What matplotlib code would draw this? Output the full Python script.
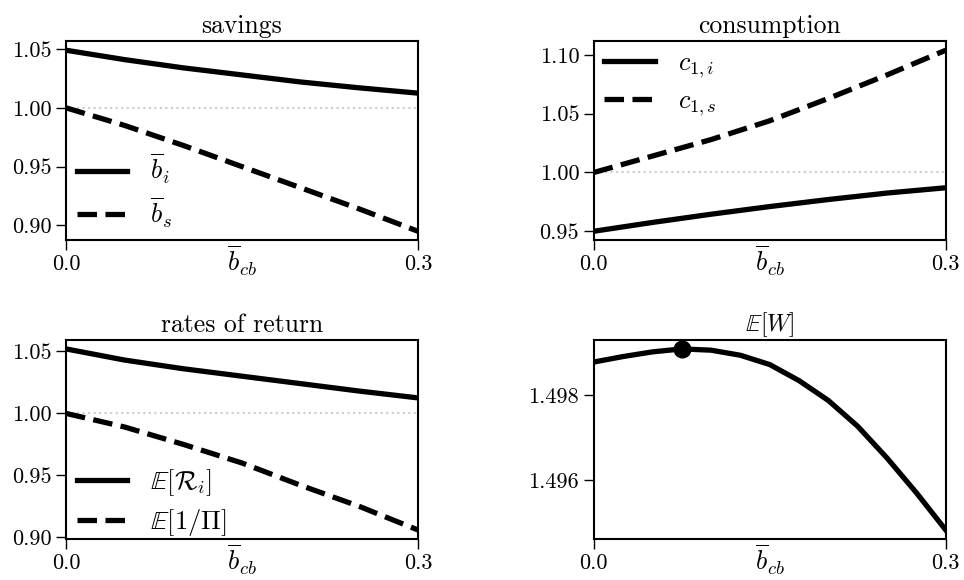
import numpy as np
import matplotlib
matplotlib.use("Agg")
import matplotlib.pyplot as plt
from matplotlib.ticker import FormatStrFormatter

plt.rcParams['font.family'] = 'serif'
plt.rcParams['font.serif'] = ['cmr10', 'DejaVu Serif']
plt.rcParams['mathtext.fontset'] = 'cm'
plt.rcParams['axes.formatter.use_mathtext'] = True
plt.rcParams['font.size'] = 16
plt.rcParams['axes.titlesize'] = 18.5

# grid of central bank holdings
b_cb = [0.0, 0.05, 0.1, 0.15, 0.2, 0.25, 0.3]

# savings
b_i = [1.049, 1.041, 1.034, 1.028, 1.022, 1.017, 1.0125]
b_s = [1.000, 0.985, 0.968, 0.950, 0.932, 0.914, 0.895]

# consumption
c_1i = [0.950, 0.9575, 0.9645, 0.971, 0.977, 0.9825, 0.987]
c_1s = [1.000, 1.014, 1.028, 1.044, 1.063, 1.083, 1.104]

# rates of return
ER_i = [1.052, 1.043, 1.036, 1.030, 1.024, 1.018, 1.0125]
E_inv_pi = [1.000, 0.989, 0.975, 0.960, 0.942, 0.925, 0.906]

# welfare
b_cb_w = [0.0, 0.025, 0.05, 0.075, 0.1, 0.125, 0.15, 0.175, 0.2, 0.225, 0.25, 0.275, 0.3]
EW = [1.49879, 1.49892, 1.49903, 1.49910, 1.49907, 1.49895, 1.49873,
      1.49835, 1.49788, 1.49727, 1.49652, 1.49570, 1.49482]

xlab = r'$\overline{b}_{cb}$'
lw = 3.8
leg_kw = dict(frameon=False, fontsize=19, handlelength=1.9, handletextpad=0.9,
              labelspacing=0.35, borderaxespad=0.0)

fig, axes = plt.subplots(2, 2, figsize=(9.64, 5.8), dpi=100)
plt.subplots_adjust(left=0.0685, right=0.981, bottom=0.0707, top=0.929,
                    wspace=0.5, hspace=0.5)


def style(ax, yticks, fmt='%.2f'):
    ax.set_xlim(0, 0.3)
    ax.set_xticks([0.0, 0.3])
    ax.xaxis.set_major_formatter(FormatStrFormatter('%.1f'))
    ax.set_yticks(yticks)
    ax.yaxis.set_major_formatter(FormatStrFormatter(fmt))
    ax.tick_params(direction='out', length=7, width=1, pad=3.5)
    for s in ax.spines.values():
        s.set_linewidth(1.5)
    ax.set_xlabel(xlab, fontsize=19, labelpad=-22)


# savings
ax = axes[0, 0]
ax.axhline(1.0, color='#cccccc', ls=':', lw=1.5)
ax.plot(b_cb, b_i, 'k-', lw=lw, label=r'$\overline{b}_i$')
ax.plot(b_cb, b_s, 'k--', lw=lw, label=r'$\overline{b}_s$')
ax.set_title('savings')
style(ax, [0.90, 0.95, 1.00, 1.05])
ax.legend(loc='lower left', **leg_kw)

# consumption
ax = axes[0, 1]
ax.axhline(1.0, color='#cccccc', ls=':', lw=1.5)
ax.plot(b_cb, c_1i, 'k-', lw=lw, label=r'$c_{1,i}$')
ax.plot(b_cb, c_1s, 'k--', lw=lw, label=r'$c_{1,s}$')
ax.set_title('consumption')
style(ax, [0.95, 1.00, 1.05, 1.10])
ax.legend(loc='upper left', **leg_kw)

# rates of return
ax = axes[1, 0]
ax.axhline(1.0, color='#cccccc', ls=':', lw=1.5)
ax.plot(b_cb, ER_i, 'k-', lw=lw, label=r'$\mathbb{E}[\mathcal{R}_i]$')
ax.plot(b_cb, E_inv_pi, 'k--', lw=lw, label=r'$\mathbb{E}[1/\Pi]$')
ax.set_title('rates of return')
style(ax, [0.90, 0.95, 1.00, 1.05])
ax.legend(loc='lower left', bbox_to_anchor=(0, -0.05), **leg_kw)

# welfare
ax = axes[1, 1]
ax.plot(b_cb_w, EW, 'k-', lw=lw)
imax = int(np.argmax(EW))
ax.plot(b_cb_w[imax], EW[imax], 'ko', ms=12)
ax.set_title(r'$\mathbb{E}[W]$', fontsize=17)
style(ax, [1.496, 1.498], fmt='%.3f')

fig.savefig('out.png', dpi=100)
